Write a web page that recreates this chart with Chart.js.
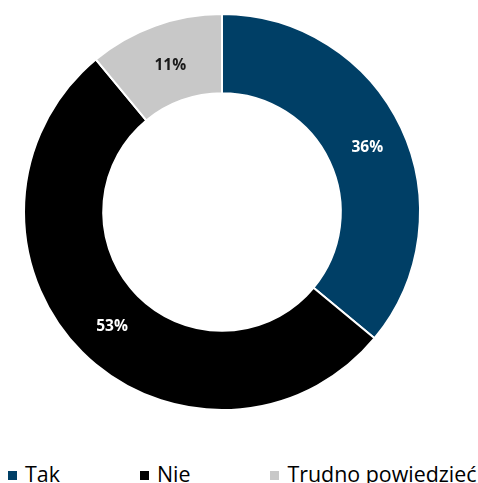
<!DOCTYPE html>
<html>
<head>
<meta charset="utf-8">
<script src="https://cdn.jsdelivr.net/npm/chart.js@4"></script>
<style>
  html, body { margin: 0; padding: 0; background: #fff; }
  #wrap { position: relative; width: 478px; height: 483px; }
  #chart { position: absolute; left: 0; top: 0; }
  #legend { position: absolute; left: 8px; top: 459px; display: flex; font-family: "Open Sans", sans-serif; font-size: 21.4px; color: #000; }
  .item { display: flex; align-items: center; margin-right: 80px; white-space: nowrap; }
  .item:last-child { margin-right: 0; }
  .box { width: 9px; height: 9px; margin-right: 8px; margin-top: 3px; }
</style>
</head>
<body>
<div id="wrap">
  <canvas id="chart" width="478" height="424"></canvas>
  <div id="legend"></div>
</div>
<script>
const categories = ['Tak', 'Nie', 'Trudno powiedzieć'];
const shares = [36, 53, 11];
const colors = ['#003F66', '#000000', '#C8C8C8'];
const labelColors = ['#ffffff', '#ffffff', '#1a1a1a'];

// percent labels in the middle of each ring segment
const sliceLabels = {
  id: 'sliceLabels',
  afterDatasetsDraw(chart) {
    const ctx = chart.ctx;
    const meta = chart.getDatasetMeta(0);
    ctx.save();
    ctx.font = 'bold 15.5px "Open Sans", sans-serif';
    ctx.textAlign = 'center';
    ctx.textBaseline = 'middle';
    meta.data.forEach((arc, i) => {
      const p = arc.tooltipPosition();
      ctx.fillStyle = labelColors[i];
      ctx.fillText(shares[i] + '%', p.x + 2, p.y + 3);
    });
    ctx.restore();
  }
};

const ctx = document.getElementById('chart').getContext('2d');
const chart = new Chart(ctx, {
  type: 'doughnut',
  data: {
    labels: categories,
    datasets: [{
      data: shares,
      backgroundColor: colors,
      borderColor: '#ffffff',
      borderWidth: 2
    }]
  },
  options: {
    responsive: false,
    animation: false,
    cutout: '60%',
    layout: { padding: { top: 13, bottom: 13, left: 0, right: 34 } },
    plugins: {
      legend: { display: false },
      tooltip: { enabled: false }
    }
  },
  plugins: [sliceLabels]
});

const legend = document.getElementById('legend');
categories.forEach((name, i) => {
  const item = document.createElement('div');
  item.className = 'item';
  const box = document.createElement('span');
  box.className = 'box';
  box.style.background = colors[i];
  item.appendChild(box);
  item.appendChild(document.createTextNode(name));
  legend.appendChild(item);
});
</script>
</body>
</html>
